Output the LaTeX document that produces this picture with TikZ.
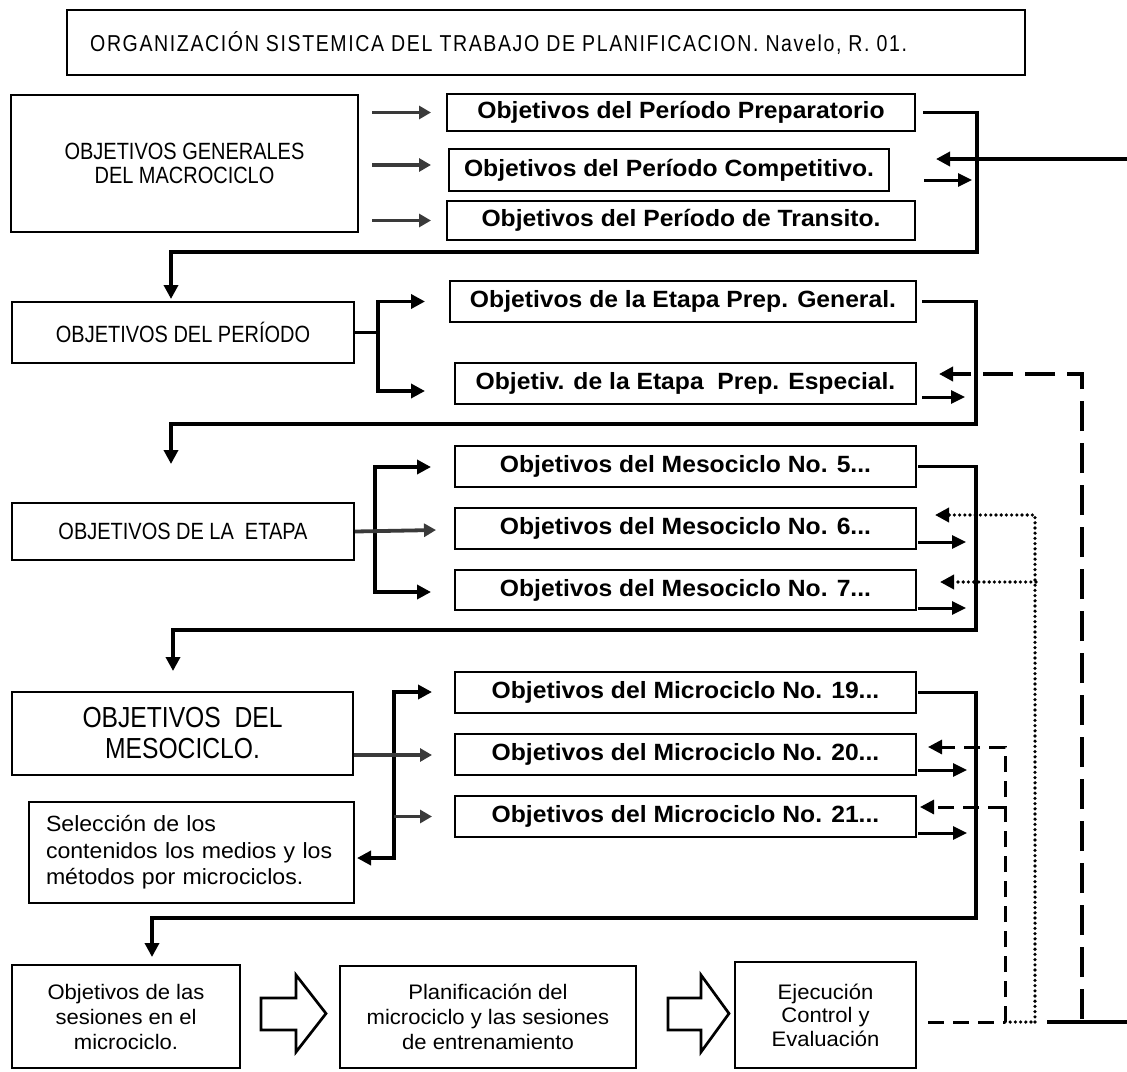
\documentclass[tikz,border=0pt]{standalone}
\usepackage{fontspec}
\setmainfont{Liberation Sans}[FakeStretch=1.05]
\newfontfamily\narrowfont{Liberation Sans}[FakeStretch=0.85]
\newfontfamily\headfont{Liberation Sans}[FakeStretch=0.85,LetterSpace=7]
\usetikzlibrary{arrows.meta,calc}
\definecolor{arrgray}{HTML}{3A3A3A}
\begin{document}
\begin{tikzpicture}[x=1pt,y=-1pt,
  bx/.style={draw, line width=2pt, inner sep=0pt, align=center},
  obj/.style={bx, font=\fontsize{23.5}{25}\selectfont\bfseries, minimum height=41},
  caps/.style={font=\narrowfont\fontsize{23.5}{24}\selectfont},
  plain/.style={font=\fontsize{21}{25}\selectfont},
  brk/.style={line width=3.5pt, line join=miter},
  endtri/.style={-{Triangle[length=14pt,width=14pt]}},
  small/.style={line width=3pt, -{Triangle[length=14pt,width=13pt]}},
  garr/.style={line width=3.8pt, draw=arrgray, -{Triangle[length=12pt,width=13pt]}},
  ldash/.style={line width=3.5pt, dash pattern=on 30pt off 12pt},
  mdash/.style={line width=3pt, dash pattern=on 16pt off 9pt},
  dotl/.style={line width=3.6pt, line cap=round, dash pattern=on 0pt off 5.2pt},
  hollow/.style={draw, line width=2.7pt, line join=miter}
]
\useasboundingbox (0,0) rectangle (1127,1071);

% ---- heading ----
\node[bx, minimum width=958, minimum height=65] (title) at (546,42.5) {};
\node[anchor=west, inner sep=0pt, font=\headfont\fontsize{23}{24}\selectfont] (titletext) at (90,43)
  {ORGANIZACIÓN SISTEMICA DEL TRABAJO DE PLANIFICACION. Navelo, R. 01.};

% ---- macrocycle level ----
\node[bx, caps, minimum width=347, minimum height=137] (macro) at (184.5,163.5)
  {OBJETIVOS GENERALES\\DEL MACROCICLO};
\node[obj, minimum width=468, minimum height=37] (B1) at (681,112.5) {Objetivos del Período Preparatorio};
\node[obj, minimum width=440, minimum height=42] (B2) at (669,170) {Objetivos del Período Competitivo.};
\node[obj, minimum width=468, minimum height=39] (B3) at (681,220.5) {Objetivos del Período de Transito.};

% ---- period level ----
\node[bx, caps, minimum width=342, minimum height=61] (period) at (183,332.5) {OBJETIVOS DEL PERÍODO};
\node[obj, minimum width=466] (B4) at (683,301.5) {Objetivos de la Etapa Prep. General.};
\node[obj, minimum width=461] (B5) at (685.5,383.5) {Objetiv. de la Etapa\ \ Prep. Especial.};

% ---- stage level ----
\node[bx, caps, minimum width=342, minimum height=57] (etapa) at (183,531.5) {OBJETIVOS DE LA\ \ ETAPA};
\node[obj, minimum width=461] (B6) at (685.5,466.5) {Objetivos del Mesociclo No. 5...};
\node[obj, minimum width=461] (B7) at (685.5,528.5) {Objetivos del Mesociclo No. 6...};
\node[obj, minimum width=461, minimum height=40] (B8) at (685.5,590) {Objetivos del Mesociclo No. 7...};

% ---- mesocycle level ----
\node[bx, font=\narrowfont\fontsize{29}{31}\selectfont, minimum width=341, minimum height=83] (meso) at (182.5,733.5)
  {OBJETIVOS\ \ DEL\\MESOCICLO.};
\node[bx, font=\fontsize{22}{26.5}\selectfont, align=left, inner xsep=17pt, text width=291pt,
  minimum height=101] (sel) at (191.5,852.5)
  {Selección de los\\contenidos los medios y los\\métodos por microciclos.};
\node[obj, minimum width=461] (B9) at (685.5,692.5) {Objetivos del Microciclo No. 19...};
\node[obj, minimum width=461] (B10) at (685.5,754.5) {Objetivos del Microciclo No. 20...};
\node[obj, minimum width=461] (B11) at (685.5,816.5) {Objetivos del Microciclo No. 21...};

% ---- sessions ----
\node[bx, plain, minimum width=228, minimum height=103] (sess) at (126,1016.5)
  {Objetivos de las\\sesiones en el\\microciclo.};
\node[bx, plain, minimum width=296, minimum height=102] (plan) at (488,1017)
  {Planificación del\\microciclo y las sesiones\\de entrenamiento};
\node[bx, font=\fontsize{21}{23.5}\selectfont, minimum width=181, minimum height=106] (ejec) at (825.5,1015)
  {Ejecución\\Control y\\Evaluación};

% hollow block arrows between the session boxes
\draw[hollow] (261,998) -- (296,998) -- (296,975) -- (326,1013.5) -- (296,1052) -- (296,1030) -- (261,1030) -- cycle;
\draw[hollow] (668,998) -- (701,998) -- (701,975) -- (729,1013.5) -- (701,1052) -- (701,1030) -- (668,1030) -- cycle;

% ---- bend points of the return brackets ----
\coordinate (k1) at (977,252);
\coordinate (k2) at (976,424);
\coordinate (k3) at (976,630);
\coordinate (k4) at (976,918);
\coordinate (inR) at (1127,159);
\coordinate (ld) at (1082,1019);
\coordinate (dm) at (1005,1022);
\coordinate (dt) at (1035,1022);
\coordinate (out) at (1127,1022);

% macrocycle -> periods
\draw[garr] ($(B1.west)+(-74,0)$) -- ($(B1.west)+(-15,0)$);
\draw[garr] ($(B2.west)+(-76,-5)$) -- ($(B2.west)+(-17,-5)$);
\draw[garr] ($(B3.west)+(-74,0)$) -- ($(B3.west)+(-15,0)$);
\draw[brk,endtri] ($(B1.east)+(7,0)$) -| (k1) -| ($(period.north)+(-12,-2)$);
\draw[brk,endtri] (inR) -- ($(B2.east)+(46,-11)$);
\draw[small] ($(B2.east)+(34,10)$) -- ++(48,0);

% period -> stages
\draw[brk] (period.east) -- ++(23,0) coordinate (j1);
\draw[brk,endtri] (j1) |- ($(B4.west)+(-24,0)$);
\draw[brk,endtri] (j1) |- ($(B5.west)+(-29,7.5)$);
\draw[brk,endtri] ($(B4.east)+(5,0)$) -| (k2) -| ($(etapa.north)+(-12,-38)$);
\draw[small] ($(B5.east)+(5,13.5)$) -- ++(43,0);
\draw[ldash,endtri] (ld) |- ($(B5.east)+(22,-9.5)$);

% stage -> mesocycles
\coordinate (j2) at ($(etapa.east)+(20,0)$);
\draw[brk,endtri] (j2) |- ($(B6.west)+(-23,0.5)$);
\draw[brk,endtri] (j2) |- ($(B8.west)+(-23,2)$);
\draw[garr] (etapa.east) -- ($(etapa.east)+(81,-1.5)$);
\draw[brk,endtri] ($(B6.east)+(1,0)$) -| (k3) -| ($(meso.north)+(-9.5,-20)$);
\draw[small] ($(B7.east)+(1,13.5)$) -- ++(48,0);
\draw[small] ($(B8.east)+(1,18)$) -- ++(48,0);
\draw[dotl,endtri] (dt) |- ($(B7.east)+(18,-13.5)$);
\draw[dotl,endtri] ($(B8.east)+(119,-8)$) -- ($(B8.east)+(23,-8)$);

% mesocycle -> microcycles
\coordinate (j3) at ($(meso.east)+(40,21.5)$);
\draw[brk,endtri] (j3) |- ($(B9.west)+(-22,-0.5)$);
\draw[brk,endtri] (j3) |- ($(sel.east)+(2,5.5)$);
\draw[garr] ($(meso.east)+(0,21.5)$) -- ($(B10.west)+(-22,0.5)$);
\draw[garr] (j3 |- B11.west) -- ($(B11.west)+(-22,0)$);
\draw[brk,endtri] ($(B9.east)+(1,0)$) -| (k4) -| ($(sess.north)+(26,-7)$);
\draw[small] ($(B10.east)+(1,15.5)$) -- ++(49,0);
\draw[small] ($(B11.east)+(1,16.5)$) -- ++(49,0);
\draw[mdash,endtri] (dm) |- ($(B10.east)+(11,-7.5)$);
\draw[mdash,endtri] ($(B11.east)+(87,-9.5)$) -- ($(B11.east)+(3,-9.5)$);

% feedback leaving the execution box
\draw[mdash] ($(ejec.east)+(11,7)$) -- (dm);
\draw[dotl] (dm) -- (dt);
\draw[brk] ($(dt)+(12,0)$) -- (out);
\end{tikzpicture}
\end{document}
